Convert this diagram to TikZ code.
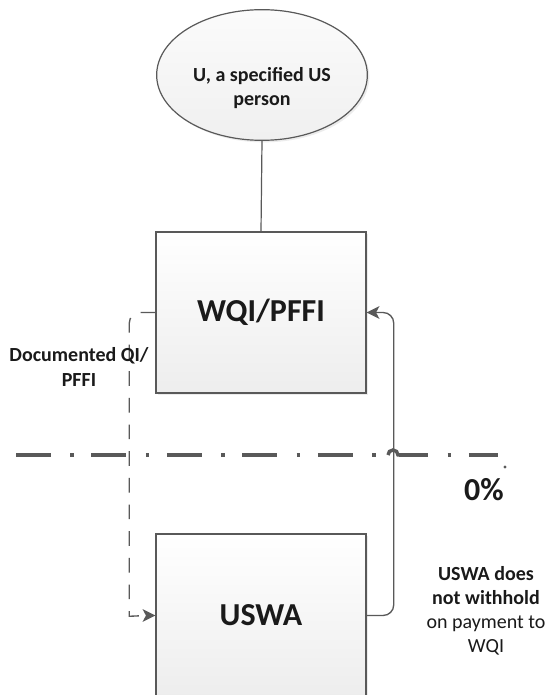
\documentclass[tikz,border=0pt]{standalone}
\usepackage{fontspec}
\setmainfont{Carlito}
\usetikzlibrary{shapes.geometric,arrows.meta,shadows,calc}
\definecolor{edge}{HTML}{595959}
\definecolor{ink}{HTML}{1A1A1A}
\begin{document}
\begin{tikzpicture}[x=0.75pt,y=-0.75pt,
  softshadow/.style={drop shadow={opacity=0.15,shadow xshift=1.5pt,shadow yshift=-1.5pt}},
  entity/.style={draw=edge,line width=1.1pt,top color=white,bottom color=gray!14,
    softshadow,minimum width=157.5pt,minimum height=120.75pt,inner sep=0pt},
  person/.style={ellipse,draw=edge,line width=0.9pt,top color=gray!3,bottom color=gray!12,
    softshadow,minimum width=158pt,minimum height=98pt,inner sep=0pt},
  bigtext/.style={font=\fontsize{24}{28}\selectfont\bfseries,text=ink},
  smalltext/.style={font=\fontsize{15}{18}\selectfont,text=ink,align=center},
  link/.style={draw=edge,line width=1pt,-{Stealth[length=9.5pt,width=9.5pt,inset=2.5pt]}},
  dashlink/.style={link,dash pattern=on 11pt off 9pt},
  boundary/.style={draw=edge,line width=2.6pt,
    dash pattern=on 26.25pt off 14.5pt on 2.5pt off 13.35pt}]
\clip (0,0) rectangle (548,695);
\fill[white] (0,0) rectangle (548,695);

% parties
\node[person] (u) at (262,75) {};
\node[smalltext,font=\fontsize{15}{18}\selectfont\bfseries] (ulabel) at (262,88)
  {U, a specified US\\person};
\node[entity] (wqi) at (261,312.5) {};
\node[bigtext] (wqit) at (wqi.center) {WQI/PFFI};
\node[entity,minimum height=122.25pt] (uswa) at (261,615.5) {};
\node[bigtext] (uswat) at (261,615) {USWA};

\draw[draw=edge,line width=0.9pt] (u.south) -- (wqi.north);

% withholding boundary with a hop over the payment line
\coordinate (bl) at (16,455);
\coordinate (br) at (498,455);
\coordinate (hop) at (393,455);
\draw[boundary] (bl) -- (br);
\fill[white] ($(hop)+(-6,-3)$) rectangle ($(hop)+(6,3)$);
\draw[draw=edge,line width=2.6pt] ($(hop)+(-5,0)$) arc[start angle=180,end angle=0,radius=3.75pt]
  -- ($(hop)+(12,0)$);
\fill[edge] (505,467) circle (1.3pt);

% documentation flow and payment flow
\draw[dashlink,rounded corners=8pt] (wqi.west) -- ++(-26,0)
  -- ($(uswa.west)+(-26,-10)$) to[out=-90,in=180] (uswa.west);
\draw[link,rounded corners=8pt] (uswa.east) -- ++(27,0)
  -- ($(wqi.east)+(27,0)$) -- (wqi.east);

% labels
\node[smalltext,font=\fontsize{15}{18.75}\selectfont\bfseries] (doc) at (79,367)
  {Documented QI/\\PFFI};
\node[bigtext] (pct) at (484,490) {0\%};
\node[smalltext] (note) at (486,611)
  {\textbf{USWA does}\\\textbf{not withhold}\\on payment to\\WQI};
\end{tikzpicture}
\end{document}
